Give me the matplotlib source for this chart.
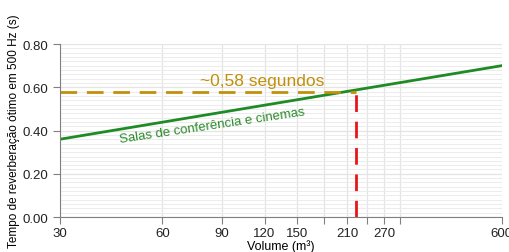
import numpy as np
import matplotlib.pyplot as plt
from matplotlib.ticker import FixedLocator, FixedFormatter, MultipleLocator

plt.rcParams['font.family'] = ['Liberation Sans', 'DejaVu Sans']

# data
volume = [30, 600]
tempo = [0.36, 0.70]
vol_ponto = 223
tempo_ponto = 0.58
xticks = [30, 60, 90, 120, 150, 180, 210, 240, 270, 300, 600]
xlabels = ['30', '60', '90', '120', '150', '', '210', '', '270', '', '600']
yticks = [0.0, 0.2, 0.4, 0.6, 0.8]

fig = plt.figure(figsize=(5.1, 2.53), dpi=100)
ax = fig.add_axes([0.118, 0.138, 0.866, 0.684])

ax.set_xscale('log')
ax.set_xlim(30, 600)
ax.set_ylim(0, 0.8)

ax.xaxis.set_major_locator(FixedLocator(xticks))
ax.xaxis.set_major_formatter(FixedFormatter(xlabels))
ax.xaxis.set_minor_locator(FixedLocator([]))
ax.set_yticks(yticks)
ax.set_yticklabels(['%.2f' % v for v in yticks])
ax.yaxis.set_minor_locator(MultipleLocator(0.02))

ax.grid(True, which='major', color='#e4e4e4', linewidth=0.9)
ax.grid(True, which='minor', axis='y', color='#ececec', linewidth=0.7)
ax.set_axisbelow(True)

for s in ['top', 'right']:
    ax.spines[s].set_visible(False)
for s in ['left', 'bottom']:
    ax.spines[s].set_color('#808080')
ax.tick_params(axis='both', which='major', colors='#808080', labelcolor='#222222',
               labelsize=9.5, length=5)
ax.tick_params(axis='x', which='major', pad=2)
ax.tick_params(axis='y', which='minor', length=0)

ax.plot(volume, tempo, color='#1f8b24', linewidth=2)
ax.plot([30, vol_ponto], [tempo_ponto, tempo_ponto], color='#c0900a',
        linewidth=2, dashes=(6, 3.5))
ax.plot([vol_ponto, vol_ponto], [0, tempo_ponto], color='#e8161b',
        linewidth=2, dashes=(6, 3.5))

ax.text(118, 0.598, '~0,58 segundos', color='#c0900a', fontsize=12.5,
        ha='center', va='bottom')
ax.text(45, 0.335, 'Salas de conferência e cinemas', color='#2b8a2b',
        fontsize=9.5, rotation=8.5, rotation_mode='anchor', ha='left', va='bottom')

ax.set_xlabel('Volume (m³)', fontsize=9, labelpad=0)
ax.set_ylabel('Tempo de reverberação ótimo em 500 Hz (s)', fontsize=8.5, labelpad=2)

fig.savefig('out.png', dpi=100)
